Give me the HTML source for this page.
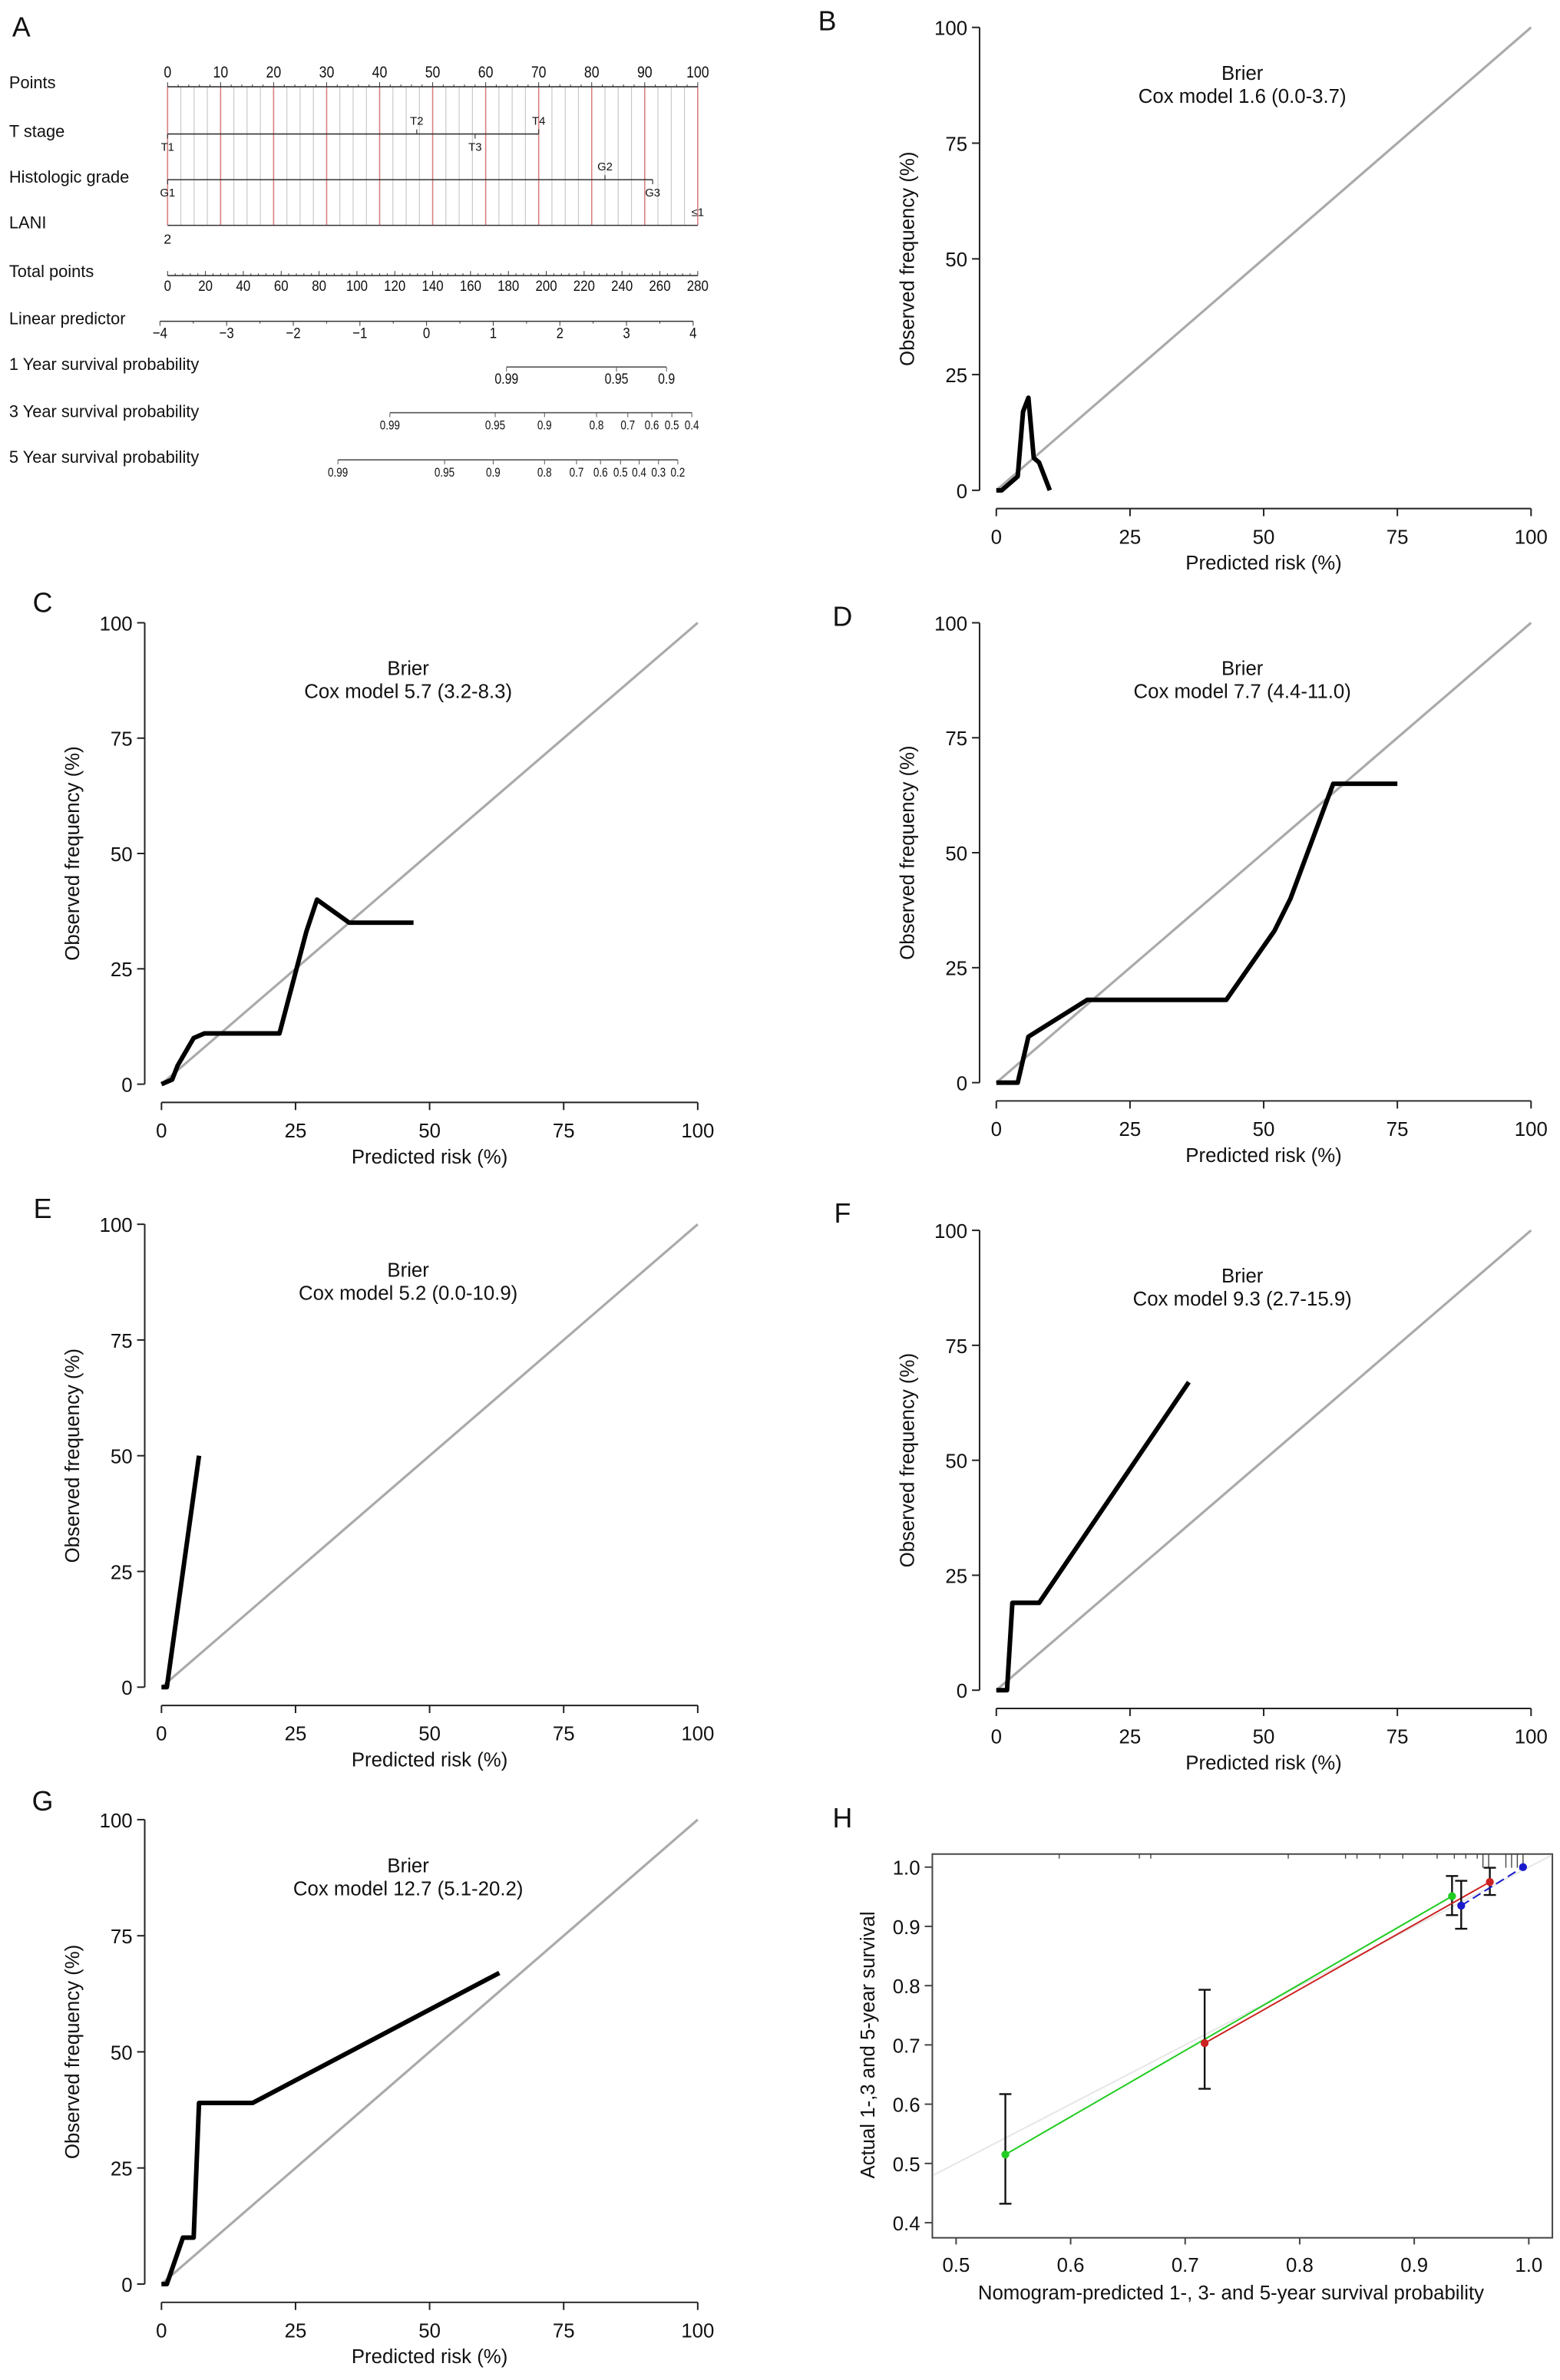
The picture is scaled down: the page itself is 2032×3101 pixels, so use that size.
<!DOCTYPE html>
<html><head><meta charset="utf-8"><style>
html,body{margin:0;padding:0;background:#fff}
svg{display:block;font-family:"Liberation Sans",Arial,sans-serif}
</style></head><body>
<svg id="fig" width="2032" height="3101" viewBox="0 0 1024 1563" preserveAspectRatio="none" xmlns="http://www.w3.org/2000/svg">
<rect width="1024" height="1563" fill="#fff"/>
</svg>
<script>
// ---------- Data ----------
const nomoRows = ["Points","T stage","Histologic grade","LANI","Total points","Linear predictor","1 Year survival probability","3 Year survival probability","5 Year survival probability"];
const pointTicks = [0,10,20,30,40,50,60,70,80,90,100];
const tStagePts = [0,47,58,70];
const tStageLabels = ["T1","T2","T3","T4"];
const gradePts = [0,82.5,91.5];
const gradeLabels = ["G1","G2","G3"];
const laniPts = [0,100];
const laniLabels = ["2","≤1"];
const totalTicks = [0,20,40,60,80,100,120,140,160,180,200,220,240,260,280];
const lpTicks = [-4,-3,-2,-1,0,1,2,3,4];
const surv1Labels = ["0.99","0.95","0.9"];
const surv1Lp = [1.2,2.85,3.6];
const surv3Labels = ["0.99","0.95","0.9","0.8","0.7","0.6","0.5","0.4"];
const surv3Lp = [-0.55,1.03,1.77,2.55,3.02,3.38,3.68,3.98];
const surv5Labels = ["0.99","0.95","0.9","0.8","0.7","0.6","0.5","0.4","0.3","0.2"];
const surv5Lp = [-1.33,0.27,1.0,1.77,2.25,2.61,2.91,3.19,3.48,3.77];

const calTicks = [0,25,50,75,100];
const bX = [0,1,4,5,6,7,8,10];            const bY = [0,0,3,17,20,7,6,0];
const cX = [0,2,3,5,6,8,22,27,29,35,47];  const cY = [0,1,4,8,10,11,11,33,40,35,35];
const dX = [0,4,6,17,43,52,55,63,75];     const dY = [0,0,10,18,18,33,40,65,65];
const eX = [0,1,7];                        const eY = [0,0,50];
const fX = [0,2,3,8,36];                   const fY = [0,0,19,19,67];
const gX = [0,1,4,6,7,17,63];              const gY = [0,0,10,10,39,39,67];
const brierText = ["Cox model 1.6 (0.0-3.7)","Cox model 5.7 (3.2-8.3)","Cox model 7.7 (4.4-11.0)","Cox model 5.2 (0.0-10.9)","Cox model 9.3 (2.7-15.9)","Cox model 12.7 (5.1-20.2)"];

const hTicksX = [0.5,0.6,0.7,0.8,0.9,1.0];
const hTicksY = [0.4,0.5,0.6,0.7,0.8,0.9,1.0];
const greenPred = [0.543,0.933]; const greenObs = [0.515,0.951]; const greenLo=[0.432,0.919]; const greenHi=[0.617,0.985];
const redPred = [0.717,0.966];   const redObs = [0.703,0.975];   const redLo=[0.626,0.953];   const redHi=[0.793,0.999];
const bluePred = [0.941,0.995];  const blueObs = [0.935,1.0];    const blueLo=[0.896,1.0];    const blueHi=[0.977,1.0];
const rugVals = [0.59,0.66,0.67,0.79,0.84,0.85,0.87,0.89,0.92,0.935,0.945,0.955,0.96,0.965,0.98,0.985,0.99,0.995];

// ---------- helpers ----------
const NS="http://www.w3.org/2000/svg";
const svg=document.getElementById('fig');
function el(tag,attrs,parent){const e=document.createElementNS(NS,tag);for(const k in attrs)e.setAttribute(k,attrs[k]);(parent||svg).appendChild(e);return e;}
function txt(x,y,s,size,anchor,parent,extra){const t=el('text',Object.assign({x:x,y:y,'font-size':size,'text-anchor':anchor||'middle',fill:'#111'},extra||{}),parent);t.textContent=s;return t;}
function cond(x){return `translate(${x},0) scale(0.85,1) translate(${-x},0)`;}

// ---------- Panel A: nomogram ----------
const gA=el('g',{});


txt(14,24,"A",18,'middle',gA);
const px=p=>110+p/100*348;
const tx=t=>110+t/280*348;
const lx=v=>105+(v+4)/8*350;
const rowY=[57,88,118,148,181,211,241,271,302];
const labY=[58,90,120,150,182,213,243,274,304];
nomoRows.forEach((r,i)=>{const t=txt(6,labY[i],r,11,'start',gA);});
for(let p=0;p<=100;p+=2.5){
  const red=(p%10===0);
  el('line',{x1:px(p),x2:px(p),y1:rowY[0],y2:rowY[3],stroke:red?'#d98080':'#c8c8c8','stroke-width':red?0.8:0.6},gA);
}
el('line',{x1:px(0),x2:px(100),y1:rowY[0],y2:rowY[0],stroke:'#333','stroke-width':0.8},gA);
for(let p=0;p<=100;p+=2){el('line',{x1:px(p),x2:px(p),y1:rowY[0],y2:rowY[0]-(p%10===0?3:1.5),stroke:'#333','stroke-width':0.5},gA);}
pointTicks.forEach(p=>txt(px(p),51,String(p),10.5,'middle',gA,{transform:cond(px(p))}));
function catRow(y,pts,labels,aboveIdx){
  el('line',{x1:px(pts[0]),x2:px(pts[pts.length-1]),y1:y,y2:y,stroke:'#333','stroke-width':0.8},gA);
  pts.forEach((p,i)=>{
    const above=aboveIdx.includes(i);
    el('line',{x1:px(p),x2:px(p),y1:y,y2:above?y-3:y+3,stroke:'#333','stroke-width':0.6},gA);
    txt(px(p),above?y-6:y+11,labels[i],7.5,'middle',gA);
  });
}
catRow(rowY[1],tStagePts,tStageLabels,[1,3]);
catRow(rowY[2],gradePts,gradeLabels,[1]);
el('line',{x1:px(0),x2:px(100),y1:rowY[3],y2:rowY[3],stroke:'#333','stroke-width':0.8},gA);
txt(px(laniPts[0]),rowY[3]+12,laniLabels[0],9,'middle',gA);
txt(px(laniPts[1]),rowY[3]-6,laniLabels[1],7.5,'middle',gA);
el('line',{x1:tx(0),x2:tx(280),y1:rowY[4],y2:rowY[4],stroke:'#333','stroke-width':0.8},gA);
for(let t=0;t<=280;t+=4){el('line',{x1:tx(t),x2:tx(t),y1:rowY[4],y2:rowY[4]-(t%20===0?3:1.5),stroke:'#333','stroke-width':0.5},gA);}
totalTicks.forEach(t=>txt(tx(t),rowY[4]+10,String(t),10,'middle',gA,{transform:cond(tx(t))}));
el('line',{x1:lx(-4),x2:lx(4),y1:rowY[5],y2:rowY[5],stroke:'#333','stroke-width':0.8},gA);
for(let v=-4;v<=4.001;v+=0.5){el('line',{x1:lx(v),x2:lx(v),y1:rowY[5],y2:rowY[5]+(Math.abs(v%1)<0.01?3:1.5),stroke:'#333','stroke-width':0.5},gA);}
lpTicks.forEach(v=>txt(lx(v),rowY[5]+11,v<0?'\u2212'+Math.abs(v):String(v),10,'middle',gA,{transform:cond(lx(v))}));
function survRow(y,lps,labels,size){
  el('line',{x1:lx(lps[0]),x2:lx(lps[lps.length-1]),y1:y,y2:y,stroke:'#555','stroke-width':0.8},gA);
  lps.forEach((v,i)=>{el('line',{x1:lx(v),x2:lx(v),y1:y,y2:y+3,stroke:'#555','stroke-width':0.5},gA);txt(lx(v),y+11,labels[i],size,'middle',gA,{transform:`translate(${lx(v)},0) scale(0.8,1) translate(${-lx(v)},0)`});});
}
survRow(rowY[6],surv1Lp,surv1Labels,10);
survRow(rowY[7],surv3Lp,surv3Labels,8.5);
survRow(rowY[8],surv5Lp,surv5Labels,8.5);

// ---------- Calibration panels ----------
const panels=[
 {L:'B',x0:654,x1:1005,y0:322,y1:18,X:bX,Y:bY,lx:543,ly:20},
 {L:'C',x0:106,x1:458,y0:712,y1:409,X:cX,Y:cY,lx:28,ly:402},
 {L:'D',x0:654,x1:1005,y0:711,y1:409,X:dX,Y:dY,lx:553,ly:411},
 {L:'E',x0:106,x1:458,y0:1108,y1:804,X:eX,Y:eY,lx:28,ly:800},
 {L:'F',x0:654,x1:1005,y0:1110,y1:808,X:fX,Y:fY,lx:553,ly:803},
 {L:'G',x0:106,x1:458,y0:1500,y1:1195,X:gX,Y:gY,lx:28,ly:1189}
];
panels.forEach((P,pi)=>{
  const g=el('g',{});
  
  
  const sx=v=>P.x0+v/100*(P.x1-P.x0);
  const sy=v=>P.y0+v/100*(P.y1-P.y0);
  txt(P.lx,P.ly,P.L,18,'middle',g);
  const axY=P.y0+12, axX=P.x0-11;
  el('line',{x1:sx(0),x2:sx(100),y1:axY,y2:axY,stroke:'#222','stroke-width':1},g);
  el('line',{x1:axX,x2:axX,y1:sy(0),y2:sy(100),stroke:'#222','stroke-width':1},g);
  calTicks.forEach(t=>{
    el('line',{x1:sx(t),x2:sx(t),y1:axY,y2:axY+5,stroke:'#222','stroke-width':1},g);
    txt(sx(t),axY+23,String(t),13,'middle',g);
    el('line',{x1:axX,x2:axX-5,y1:sy(t),y2:sy(t),stroke:'#222','stroke-width':1},g);
    txt(axX-8,sy(t)+5,String(t),13,'end',g);
  });
  const xt=txt((P.x0+P.x1)/2,axY+40,'Predicted risk (%)',13,'middle',g);
  
  const yx=axX-43, yy=(P.y0+P.y1)/2;
  const yt=txt(yx,yy,'Observed frequency (%)',13,'middle',g,{transform:`rotate(-90 ${yx} ${yy})`});
  
  txt(sx(46),sy(90)+4,'Brier',13,'middle',g);
  txt(sx(46),sy(85)+4,brierText[pi],13,'middle',g);
  const diag=el('line',{x1:sx(0),y1:sy(0),x2:sx(100),y2:sy(100),stroke:'#aaa','stroke-width':1.6},g);
  
  const pts=P.X.map((x,i)=>sx(x)+','+sy(P.Y[i])).join(' ');
  const pl=el('polyline',{points:pts,fill:'none',stroke:'#000','stroke-width':3,'stroke-linejoin':'round'},g);
  
});

// ---------- Panel H ----------
const gH=el('g',{});


const hx=v=>627.6+(v-0.5)*751.8;
const hy=v=>1459.7-(v-0.4)*389.2;
txt(553,1200,'H',18,'middle',gH);
el('rect',{x:612,y:1217.6,width:407,height:252,fill:'none',stroke:'#444','stroke-width':1},gH);
el('line',{x1:hx(0.48),y1:hy(0.48),x2:hx(1.02),y2:hy(1.02),stroke:'#e6e6e6','stroke-width':1},gH);
hTicksX.forEach(v=>{el('line',{x1:hx(v),x2:hx(v),y1:1469.5,y2:1474,stroke:'#444'},gH);txt(hx(v),1492,v.toFixed(1),13,'middle',gH);});
hTicksY.forEach(v=>{el('line',{x1:612,x2:607,y1:hy(v),y2:hy(v),stroke:'#444'},gH);txt(604,hy(v)+5,v.toFixed(1),13,'end',gH);});
rugVals.forEach(v=>{el('line',{x1:hx(v),x2:hx(v),y1:1217.6,y2:1217.6+(v>0.955?9:3),stroke:'#444','stroke-width':0.7},gH);});
txt(hx(0.74),1510,'Nomogram-predicted 1-, 3- and 5-year survival probability',13,'middle',gH);
txt(574,1343,'Actual 1-,3 and 5-year survival',13,'middle',gH,{transform:'rotate(-90 574 1343)'});
function series(pred,obs,lo,hi,color,name,dash){
  const s=el('g',{},gH);
  
  
  el('polyline',{points:pred.map((p,i)=>hx(p)+','+hy(obs[i])).join(' '),fill:'none',stroke:color,'stroke-width':1,'stroke-dasharray':dash||'none'},s);
  pred.forEach((p,i)=>{
    if(hi[i]>lo[i]){
      el('line',{x1:hx(p),x2:hx(p),y1:hy(lo[i]),y2:hy(hi[i]),stroke:'#111','stroke-width':1.2},s);
      el('line',{x1:hx(p)-4,x2:hx(p)+4,y1:hy(lo[i]),y2:hy(lo[i]),stroke:'#111','stroke-width':1.2},s);
      el('line',{x1:hx(p)-4,x2:hx(p)+4,y1:hy(hi[i]),y2:hy(hi[i]),stroke:'#111','stroke-width':1.2},s);
    }
    el('circle',{cx:hx(p),cy:hy(obs[i]),r:2.6,fill:color},s);
  });
}
series(greenPred,greenObs,greenLo,greenHi,'#22cc22','series-1-year');
series(redPred,redObs,redLo,redHi,'#cc2222','series-3-year');
series(bluePred,blueObs,blueLo,blueHi,'#1a1acc','series-5-year','6,3');
</script>
</body></html>
